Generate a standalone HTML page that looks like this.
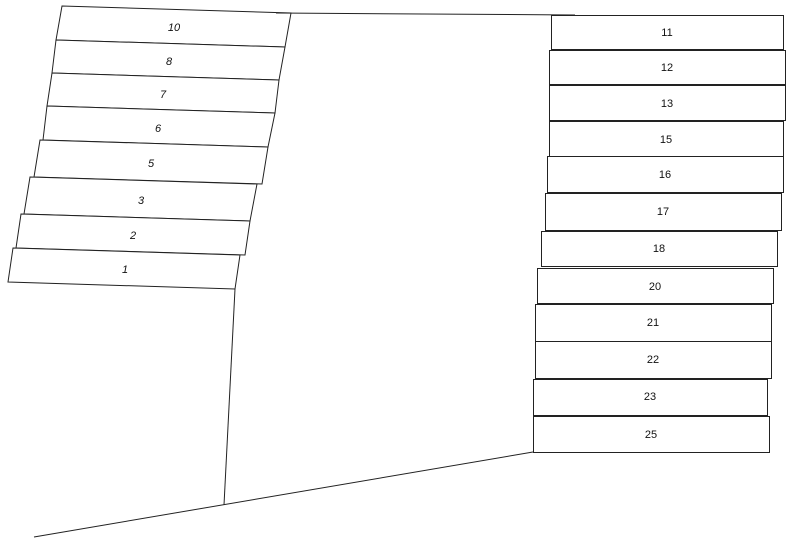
<!DOCTYPE html>
<html><head><meta charset="utf-8"><style>
html,body{margin:0;padding:0;background:#fff;}
svg{display:block}
text{font-family:"Liberation Sans",sans-serif;font-size:11px;fill:#111;text-anchor:middle;dominant-baseline:middle}
.i{font-style:italic}
</style></head><body>
<svg width="792" height="547" viewBox="0 0 792 547" xmlns="http://www.w3.org/2000/svg">
<g fill="#fff" stroke="#222" stroke-width="1">
<polygon points="62,6 291,13 285,47 56,40"/>
<polygon points="56,40 285,47 279,80 52,73"/>
<polygon points="52,73 279,80 275,113 47,106"/>
<polygon points="47,106 275,113 268,147 43,140"/>
<polygon points="40,140 268,147 262,184 34,177"/>
<polygon points="30,177 257,184 250,221 24,214"/>
<polygon points="21,214 250,221 245,255 16,248"/>
<polygon points="13,248 240,255 235,289 8,282"/>
</g>
<g stroke="#222" stroke-width="1" fill="none">
<line x1="235" y1="289" x2="224" y2="505"/>
<line x1="34" y1="537" x2="533" y2="452"/>
<line x1="276" y1="13" x2="575" y2="15"/>
</g>
<text class="i" x="174" y="28">10</text>
<text class="i" x="169" y="62">8</text>
<text class="i" x="163" y="95">7</text>
<text class="i" x="158" y="129">6</text>
<text class="i" x="151" y="164">5</text>
<text class="i" x="141" y="201">3</text>
<text class="i" x="133" y="236">2</text>
<text class="i" x="125" y="270">1</text>
<g fill="#fff" stroke="#222" stroke-width="1">
<rect x="551.5" y="15.5" width="232" height="34"/>
<rect x="549.5" y="50.5" width="236" height="34"/>
<rect x="549.5" y="85.5" width="236" height="35"/>
<rect x="549.5" y="121.5" width="234" height="35"/>
<rect x="547.5" y="156.5" width="236" height="36"/>
<rect x="545.5" y="193.5" width="236" height="37"/>
<rect x="541.5" y="231.5" width="236" height="35"/>
<rect x="537.5" y="268.5" width="236" height="35"/>
<rect x="535.5" y="304.5" width="236" height="37"/>
<rect x="535.5" y="341.5" width="236" height="37"/>
<rect x="533.5" y="379.5" width="234" height="36"/>
<rect x="533.5" y="416.5" width="236" height="36"/>
</g>
<text x="667" y="33">11</text>
<text x="667" y="68">12</text>
<text x="667" y="104">13</text>
<text x="666" y="140">15</text>
<text x="665" y="175">16</text>
<text x="663" y="212">17</text>
<text x="659" y="249">18</text>
<text x="655" y="287">20</text>
<text x="653" y="323">21</text>
<text x="653" y="360">22</text>
<text x="650" y="397">23</text>
<text x="651" y="435">25</text>
</svg>
</body></html>
